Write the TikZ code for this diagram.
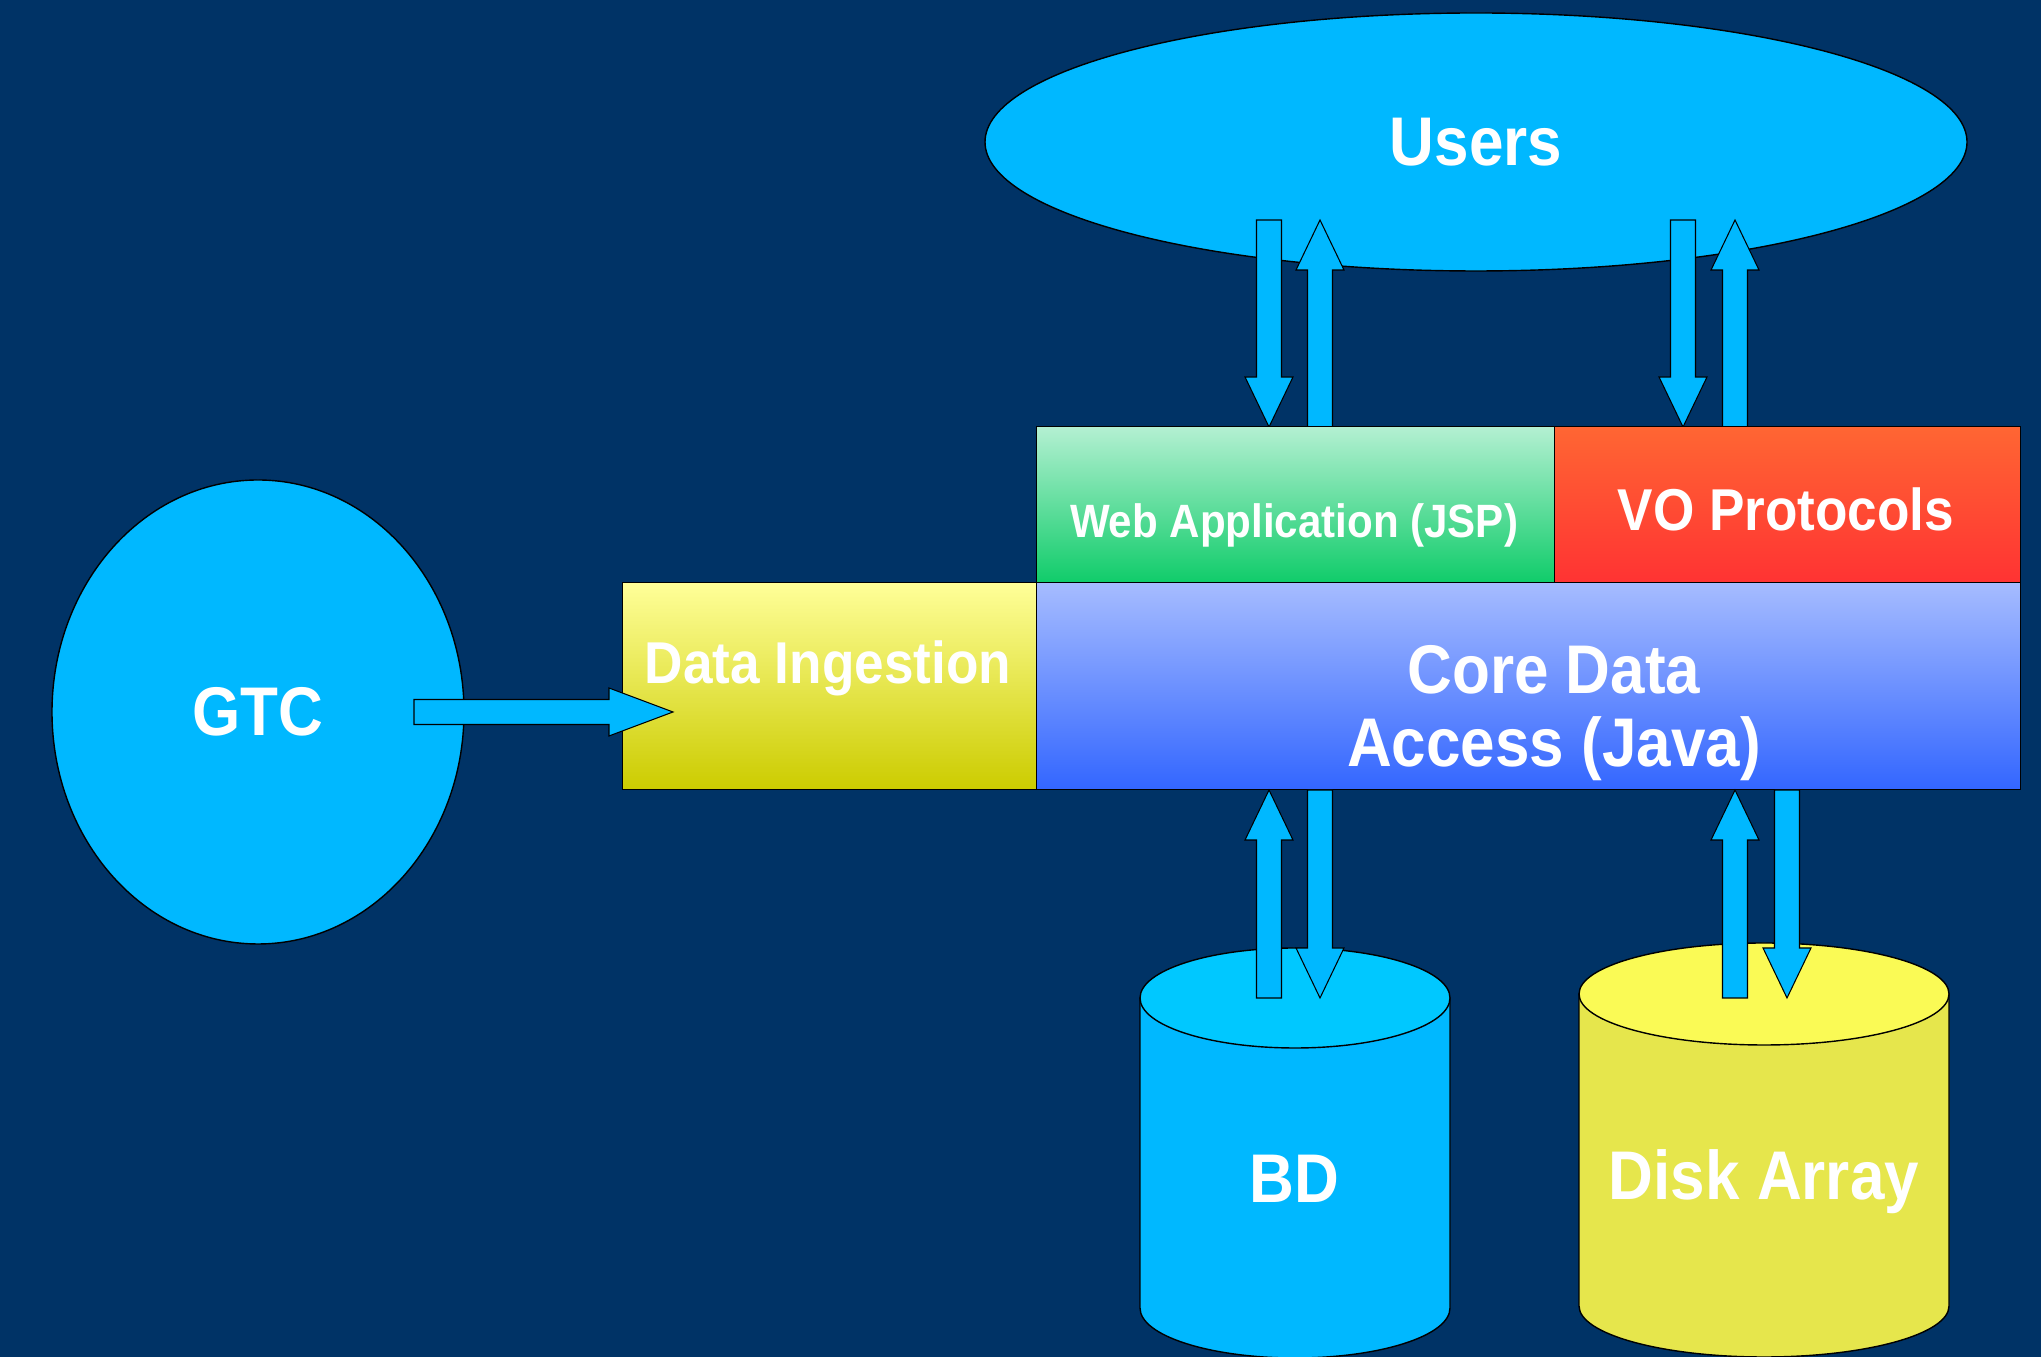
\documentclass[tikz,border=0pt]{standalone}
\usepackage{fontspec}
\setmainfont[FakeStretch=0.9]{Liberation Sans}
\usetikzlibrary{shapes.geometric,calc}

\definecolor{sfondo}{HTML}{003366}
\definecolor{ciano}{HTML}{00B8FF}
\definecolor{cianochiaro}{HTML}{00C8FF}
\definecolor{giallo}{HTML}{E6E64C}
\definecolor{giallochiaro}{HTML}{FAFA55}
\definecolor{webtop}{HTML}{B4F0D2}
\definecolor{webbot}{HTML}{10CC6A}
\definecolor{votop}{HTML}{FF6633}
\definecolor{vobot}{HTML}{FF3333}
\definecolor{ingtop}{HTML}{FFFF99}
\definecolor{ingbot}{HTML}{CCCC00}
\definecolor{coretop}{HTML}{A6BCFF}
\definecolor{corebot}{HTML}{3366FF}

\tikzset{
    txt/.style={text=white, font=\bfseries\fontsize{19.6}{20.8}\selectfont, align=center},
    layer/.style={draw=black, thin, inner sep=0pt, anchor=south west},
    fatarrow/.style={fill=ciano, draw=black, line width=0.3pt}
}

% freccia piena da #2 a #3 (#1 = lunghezza della punta)
\newcommand{\fatarrow}[3][0.5cm]{%
    \coordinate (fa-base) at ($(#3)!#1!(#2)$);
    \draw[fatarrow] ($(#2)!0.125cm!90:(#3)$) -- ($(fa-base)!0.125cm!90:(#3)$)
        -- ($(fa-base)!0.24cm!90:(#3)$) -- (#3) -- ($(fa-base)!0.24cm!-90:(#3)$)
        -- ($(fa-base)!0.125cm!-90:(#3)$) -- ($(#2)!0.125cm!-90:(#3)$) -- cycle;
}

\begin{document}
\begin{tikzpicture}
        % Sfondo
        \useasboundingbox (0,0) rectangle (20.41,13.57);
        \fill[sfondo] (0,0) rectangle (20.41,13.57);

        % Utenti e GTC
        \node[txt, ellipse, fill=ciano, draw=black, thin, minimum width=9.82cm, minimum height=2.58cm] (users) at (14.76,12.15) {Users};
        \node[txt, ellipse, fill=ciano, draw=black, thin, minimum width=4.12cm, minimum height=4.64cm] (gtc) at (2.58,6.45) {GTC};

        % Estremi delle frecce
        \coordinate (u1) at (12.69,11.37); \coordinate (w1) at (12.69,9.30);
        \coordinate (w2) at (13.20,9.30);  \coordinate (u2) at (13.20,11.37);
        \coordinate (u3) at (16.83,11.37); \coordinate (v1) at (16.83,9.30);
        \coordinate (v2) at (17.35,9.30);  \coordinate (u4) at (17.35,11.37);
        \coordinate (b1) at (12.69,3.59);  \coordinate (c1) at (12.69,5.67);
        \coordinate (c2) at (13.20,5.67);  \coordinate (b2) at (13.20,3.59);
        \coordinate (d1) at (17.35,3.59);  \coordinate (c3) at (17.35,5.67);
        \coordinate (c4) at (17.87,5.67);  \coordinate (d2) at (17.87,3.59);
        \coordinate (g1) at (4.14,6.45);   \coordinate (i1) at (6.73,6.45);

        % Frecce tra utenti e livelli
        \fatarrow{u1}{w1}
        \fatarrow{w2}{u2}
        \fatarrow{u3}{v1}
        \fatarrow{v2}{u4}

        % Livelli
        \node[layer, top color=webtop, bottom color=webbot, minimum width=5.18cm, minimum height=1.56cm] (web) at (10.36,7.74) {};
        \node[layer, top color=votop, bottom color=vobot, minimum width=4.66cm, minimum height=1.56cm] (vo) at (15.54,7.74) {};
        \node[layer, top color=ingtop, bottom color=ingbot, minimum width=4.14cm, minimum height=2.07cm] (ingest) at (6.22,5.67) {};
        \node[layer, top color=coretop, bottom color=corebot, minimum width=9.84cm, minimum height=2.07cm] (core) at (10.36,5.67) {};

        \node[txt, font=\bfseries\fontsize{13.3}{16}\selectfont] (webtxt) at (12.94,8.32) {Web Application (JSP)};
        \node[txt, font=\bfseries\fontsize{16.8}{20}\selectfont] (votxt) at (17.86,8.48) {VO Protocols};
        \node[txt, font=\bfseries\fontsize{16.8}{20}\selectfont] (ingtxt) at (8.28,6.89) {Data Ingestion};
        \node[txt] (coretxt) at (15.54,6.44) {Core Data\\Access (Java)};

        % Cilindri
        \draw[fill=ciano, thin] (11.40,3.59) -- (11.40,0.49) arc[start angle=180, end angle=360, x radius=1.55cm, y radius=0.50cm] -- (14.50,3.59) -- cycle;
        \draw[fill=cianochiaro, thin] (12.95,3.59) ellipse [x radius=1.55cm, y radius=0.50cm];
        \draw[fill=giallo, thin] (15.79,3.63) -- (15.79,0.51) arc[start angle=180, end angle=360, x radius=1.85cm, y radius=0.51cm] -- (19.49,3.63) -- cycle;
        \draw[fill=giallochiaro, thin] (17.64,3.63) ellipse [x radius=1.85cm, y radius=0.51cm];

        \node[txt] (bd) at (12.94,1.78) {BD};
        \node[txt] (disk) at (17.64,1.75) {Disk Array};

        % Frecce verso i dati
        \fatarrow{b1}{c1}
        \fatarrow{c2}{b2}
        \fatarrow{d1}{c3}
        \fatarrow{c4}{d2}
        \fatarrow[0.64cm]{g1}{i1}

\end{tikzpicture}
\end{document}
